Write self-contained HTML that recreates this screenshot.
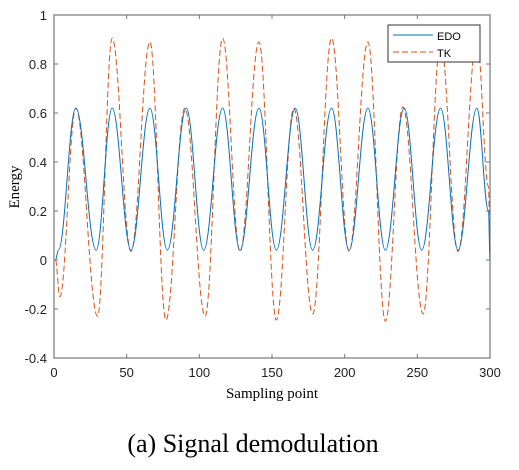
<!DOCTYPE html>
<html><head><meta charset="utf-8"><style>
body{margin:0;background:#fff;width:519px;height:470px;overflow:hidden}
svg{display:block}
text{font-family:"Liberation Sans",sans-serif}
</style></head><body>
<svg id="chart" width="519" height="470">
<g id="axes"></g><g id="series"></g><g id="legend"></g>
<text x="253" y="452" text-anchor="middle" style="font-family:'Liberation Serif',serif;font-size:26px">(a) Signal demodulation</text>
</svg>
<script>
const xTicks=[0,50,100,150,200,250,300];
const yTicks=[-0.4,-0.2,0,0.2,0.4,0.6,0.8,1];
const yTickLabels=["-0.4","-0.2","0","0.2","0.4","0.6","0.8","1"];
const edoX=[1,3,15,29,40,53,66,78,91,103,116,128,141,153,166,178,191,203,216,228,241,253,266,278,291,299,300];
const edoY=[0,0.04,0.62,0.04,0.62,0.04,0.62,0.04,0.62,0.04,0.62,0.04,0.62,0.04,0.62,0.04,0.62,0.04,0.62,0.04,0.62,0.04,0.62,0.04,0.62,0.2,0];
const tkX=[1,4,15,30,40,53,66,77,90,104,116,128,141,153,165,178,191,203,216,228,240,254,266,278,291,299,300];
const tkY=[0,-0.15,0.62,-0.23,0.905,0.035,0.89,-0.245,0.62,-0.23,0.905,0.035,0.89,-0.245,0.62,-0.22,0.905,0.035,0.89,-0.25,0.625,-0.22,0.89,0.035,0.9,0.3,0];
const L=54,R=490,T=15,B=358;
const sx=v=>L+(v-0)/(300-0)*(R-L);
const sy=v=>B-(v+0.4)/1.4*(B-T);
const NS="http://www.w3.org/2000/svg";
function mk(tag,attrs,parent){const e=document.createElementNS(NS,tag);for(const k in attrs)e.setAttribute(k,attrs[k]);parent.appendChild(e);return e;}
const ax=document.getElementById('axes');
const frame=mk('rect',{x:L,y:T,width:R-L,height:B-T,fill:'none',stroke:'#777','stroke-width':1.2},ax);


xTicks.forEach(v=>{const x=sx(v);
 mk('line',{x1:x,x2:x,y1:B,y2:B-4,stroke:'#777'},ax);
 mk('line',{x1:x,x2:x,y1:T,y2:T+4,stroke:'#777'},ax);
 const t=mk('text',{x:x,y:B+19,'text-anchor':'middle','font-size':13,fill:'#222'},ax);t.textContent=v;
 
 
});
yTicks.forEach((v,i)=>{const y=sy(v);
 mk('line',{x1:L,x2:L+4,y1:y,y2:y,stroke:'#777'},ax);
 mk('line',{x1:R,x2:R-4,y1:y,y2:y,stroke:'#777'},ax);
 const t=mk('text',{x:L-7,y:y+5,'text-anchor':'end','font-size':13,fill:'#222'},ax);t.textContent=yTickLabels[i];
 
 
});
const xt=mk('text',{x:272,y:398,'text-anchor':'middle','font-size':15,style:"font-family:'Liberation Serif',serif"},ax);xt.textContent='Sampling point';


const yt=mk('text',{x:0,y:0,'text-anchor':'middle','font-size':15,transform:'translate(19,187) rotate(-90)',style:"font-family:'Liberation Serif',serif"},ax);yt.textContent='Energy';


function pathFor(xs,ys){let d='M'+sx(xs[0])+','+sy(ys[0]);
 for(let i=1;i<xs.length;i++){const x0=sx(xs[i-1]),x1=sx(xs[i]),y0=sy(ys[i-1]),y1=sy(ys[i]);const dx=(x1-x0)/2.6;
  d+=' C'+(x0+dx)+','+y0+' '+(x1-dx)+','+y1+' '+x1+','+y1;}
 return d;}
const sg=document.getElementById('series');
const tk=mk('path',{d:pathFor(tkX,tkY),fill:'none',stroke:'#D95319','stroke-width':1,'stroke-dasharray':'6,3'},sg);


const edo=mk('path',{d:pathFor(edoX,edoY),fill:'none',stroke:'#0072BD','stroke-width':1},sg);


const lg=document.getElementById('legend');
const box=mk('rect',{x:388,y:25,width:92,height:37,fill:'#fff',stroke:'#333','stroke-width':1},lg);


mk('line',{x1:393,x2:433,y1:35,y2:35,stroke:'#0072BD'},lg);
mk('line',{x1:393,x2:433,y1:52,y2:52,stroke:'#D95319','stroke-dasharray':'6,3'},lg);
const l1=mk('text',{x:437,y:40,'font-size':11},lg);l1.textContent='EDO';


const l2=mk('text',{x:437,y:57,'font-size':11},lg);l2.textContent='TK';


</script>
</body></html>
